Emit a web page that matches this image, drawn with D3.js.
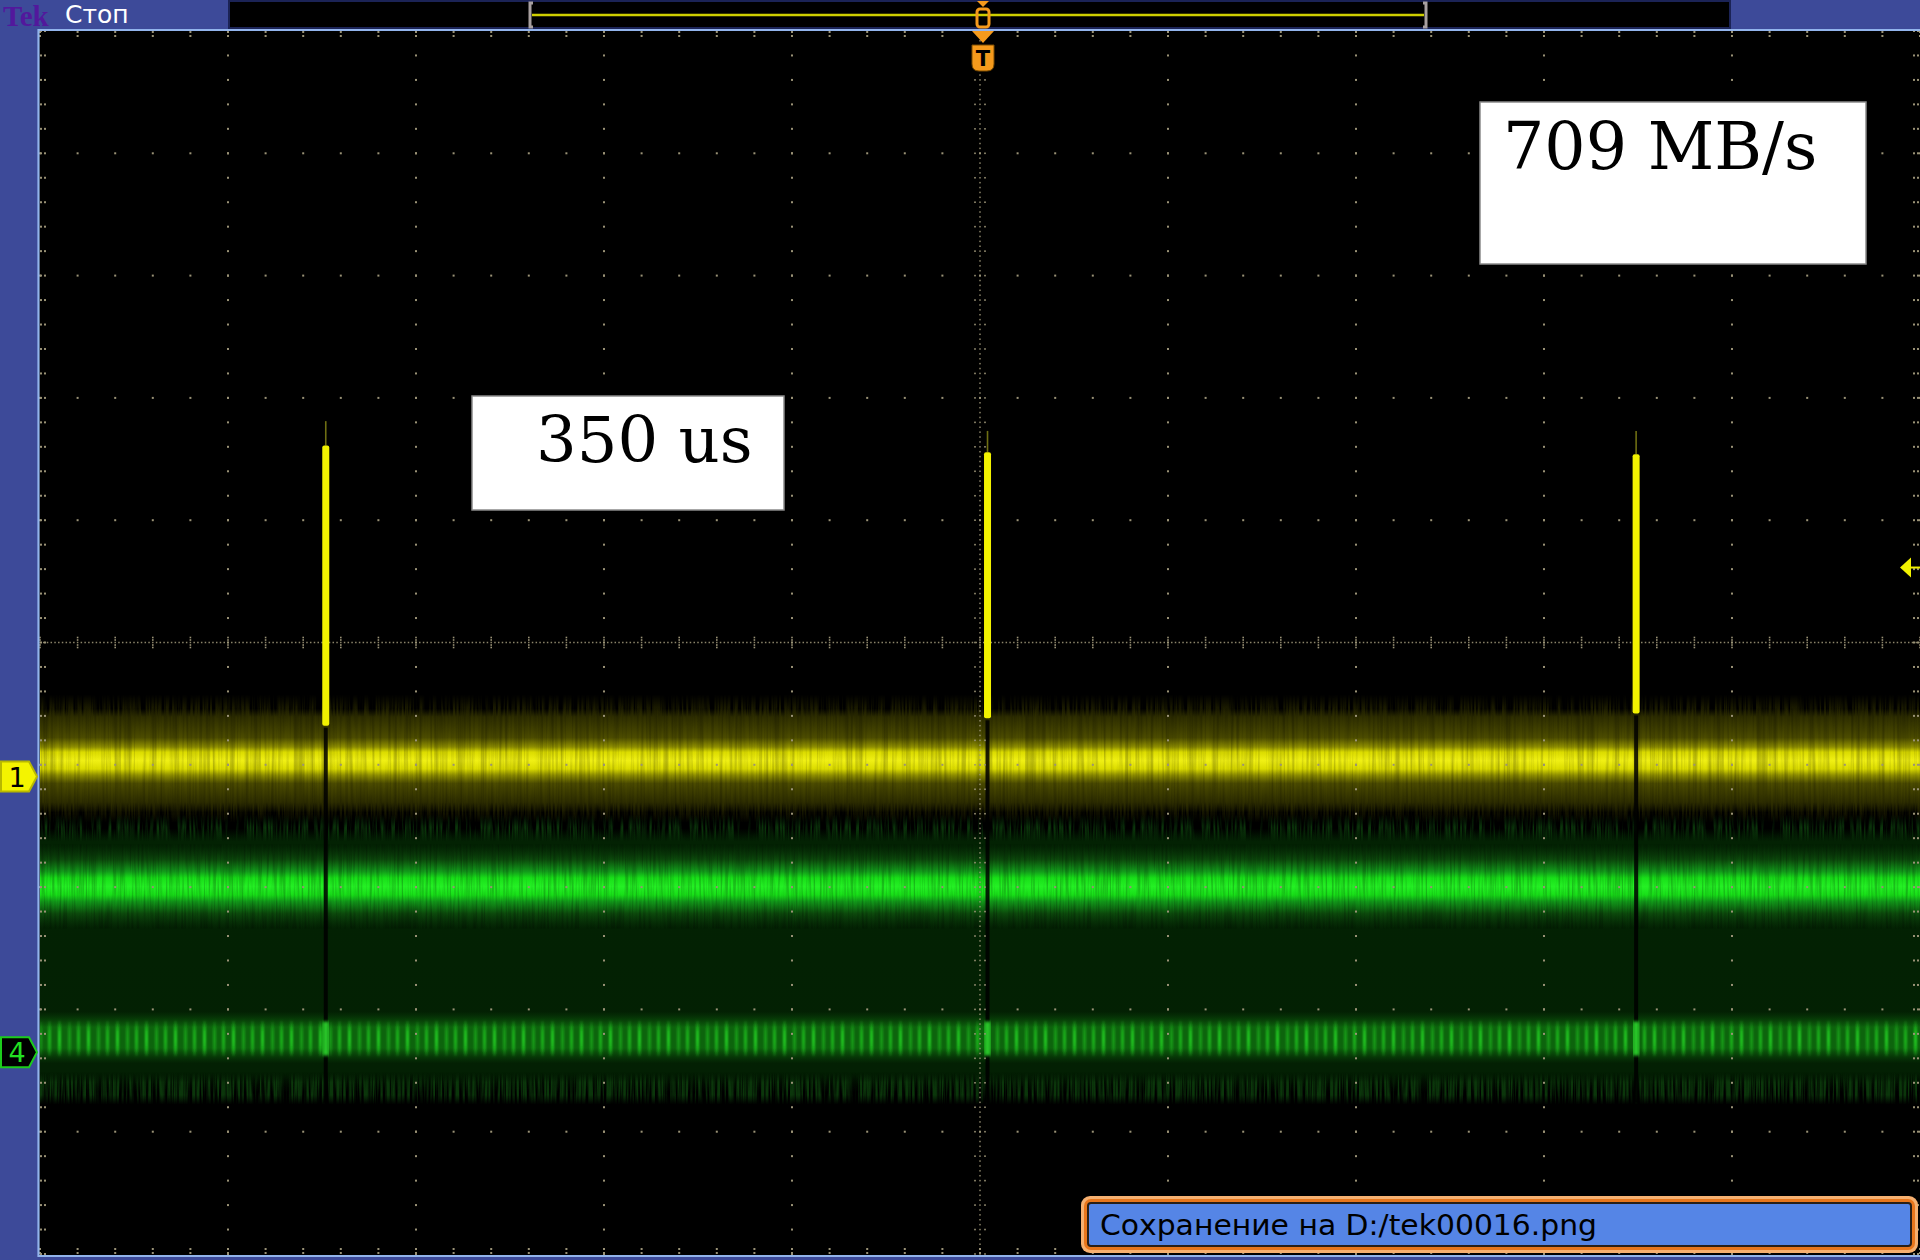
<!DOCTYPE html>
<html>
<head>
<meta charset="utf-8">
<script src="https://cdn.jsdelivr.net/npm/d3@7"></script>
<style>
  html, body { margin: 0; padding: 0; background: #3d4a99; overflow: hidden; }
</style>
</head>
<body>
<div id="scope"></div>
<script>
// ---- data (100 us/div, grid in divisions) ----
const timeDomain = [-500, 500];          // us across the 10 horizontal divisions
const voltDomain = [-5, 5];              // vertical divisions
const pulseTimes = [-348, 4, 349];       // us, the three ch1 pulses
const pulseTops = [1.61, 1.555, 1.54];   // div
const pulseBottoms = [-0.68, -0.62, -0.58];
const pulseTails = [1.81, 1.73, 1.73];   // faint lead-in above each pulse
const channelNames = ["1", "2", "4"];
const channelLevels = [-0.965, -1.995, -3.23];   // band centre, div
const markerLevels = [-1.096, null, -3.35];      // ground markers on the left
const triggerLevel = 0.613;
const triggerTime = 0;
const annotations = ["350 us", "709 MB/s"];
const statusText = "Сохранение на D:/tek00016.png";
const brandText = "Tek";
const runState = "Стоп";

const W = 1920, H = 1260;
const X0 = 40, X1 = 1920, Y0 = 31, Y1 = 1254;

const svg = d3.select("#scope").append("svg")
  .attr("width", W).attr("height", H)
  .style("display", "block");

const x = d3.scaleLinear().domain(timeDomain).range([X0, X1]);
const y = d3.scaleLinear().domain(voltDomain).range([Y1, Y0]);
const gx = d3.scaleLinear().domain([-5, 5]).range([X0, X1]);

const defs = svg.append("defs");

function vgrad(id, stops) {
  defs.append("linearGradient").attr("id", id)
    .attr("x1", 0).attr("y1", 0).attr("x2", 0).attr("y2", 1)
    .selectAll("stop").data(stops).join("stop")
    .attr("offset", d => d[0])
    .attr("stop-color", d => d[1])
    .attr("stop-opacity", d => d[2] === undefined ? 1 : d[2]);
}

// streaky texture (vertical noise like a persistence display)
function streakFilter(id, seed, fx, fy, gain, bias) {
  const f = defs.append("filter").attr("id", id)
    .attr("x", 0).attr("y", 0).attr("width", 1).attr("height", 1)
    .attr("color-interpolation-filters", "sRGB");
  f.append("feTurbulence").attr("type", "fractalNoise")
    .attr("baseFrequency", fx + " " + fy).attr("numOctaves", 2)
    .attr("seed", seed).attr("result", "n");
  f.append("feColorMatrix").attr("in", "n").attr("type", "matrix")
    .attr("values", "0 0 0 0 0  0 0 0 0 0  0 0 0 0 0  " + gain + " 0 0 0 " + bias)
    .attr("result", "a");
  f.append("feComposite").attr("in", "SourceGraphic").attr("in2", "a")
    .attr("operator", "in");
}
streakFilter("streakA", 3, 0.45, 0.015, 3.2, -1.1);
streakFilter("streakB", 11, 0.35, 0.01, 2.4, -0.9);
streakFilter("streakC", 23, 0.5, 0.02, 3.0, -1.2);

defs.append("filter").attr("id", "soft").attr("x", -0.01).attr("y", -0.2)
  .attr("width", 1.02).attr("height", 1.4)
  .append("feGaussianBlur").attr("stdDeviation", "1.2 1.5");

defs.append("clipPath").attr("id", "plotClip")
  .append("rect").attr("x", X0 - 1).attr("y", Y0 - 1)
  .attr("width", X1 - X0 + 2).attr("height", Y1 - Y0 + 2);

// gradients for the traces
vgrad("ch1Fringe", [[0, "#464600", 0], [0.25, "#464600", 0.9], [0.78, "#464600", 0.9], [1, "#464600", 0]]);
vgrad("ch1Body", [[0, "#262600", 0], [0.08, "#2e2e00"], [0.28, "#4c4c00"], [0.37, "#909000"],
  [0.42, "#dcdc00"], [0.5, "#f0f014"], [0.58, "#dcdc00"], [0.64, "#909000"], [0.72, "#4c4c00"],
  [0.9, "#2e2e00"], [1, "#262600", 0]]);
vgrad("envFill", [[0, "#032403", 0], [0.05, "#032203"], [0.92, "#032003"], [1, "#021a02", 0]]);
vgrad("envFringe", [[0, "#0c3c0c", 0], [0.3, "#0c3c0c", 0.9], [0.7, "#0c3c0c", 0.9], [1, "#0c3c0c", 0]]);
vgrad("ch2Body", [[0, "#0a3a0a", 0], [0.18, "#0c4a0c"], [0.32, "#129a1a"], [0.4, "#18e018"],
  [0.5, "#24f024"], [0.6, "#18e018"], [0.68, "#129a1a"], [0.82, "#0c4a0c"], [1, "#0a3a0a", 0]]);
vgrad("ch4Glow", [[0, "#0a4a0a", 0], [0.3, "#0d640d"], [0.7, "#0d640d"], [1, "#0a4a0a", 0]]);
vgrad("ch4Mask", [[0, "#fff", 0.1], [0.3, "#fff", 0.75], [0.55, "#fff", 0.85], [0.8, "#fff", 0.65], [1, "#fff", 0.1]]);

const pat = defs.append("pattern").attr("id", "ch4Stripes")
  .attr("patternUnits", "userSpaceOnUse").attr("width", 29).attr("height", 60);
[[0, 3, 0.9], [10, 3, 0.5], [19, 3, 0.7]].forEach(s => {
  pat.append("rect").attr("x", s[0]).attr("y", 0).attr("width", s[1]).attr("height", 60)
    .attr("fill", "#28ee28").attr("opacity", s[2]);
});
const m4 = defs.append("mask").attr("id", "ch4M").attr("maskUnits", "userSpaceOnUse")
  .attr("x", 0).attr("y", 0).attr("width", W).attr("height", H);

// ---- frame ----
svg.append("rect").attr("width", W).attr("height", H).attr("fill", "#3d4a99");
svg.append("rect").attr("x", 39).attr("y", 30).attr("width", W - 39).attr("height", 1226).attr("fill", "#000");

const plot = svg.append("g").attr("clip-path", "url(#plotClip)");

// ---- waveform bands ----
const bands = plot.append("g");
const c1 = y(channelLevels[0]), c2 = y(channelLevels[1]), c4 = y(channelLevels[2]);

// ch1 yellow
bands.append("rect").attr("x", X0).attr("width", X1 - X0)
  .attr("y", c1 - 66).attr("height", 128).attr("fill", "url(#ch1Fringe)").attr("filter", "url(#streakA)");
bands.append("rect").attr("x", X0).attr("width", X1 - X0)
  .attr("y", c1 - 52).attr("height", 104).attr("fill", "url(#ch1Body)");
bands.append("rect").attr("x", X0).attr("width", X1 - X0)
  .attr("y", c1 - 52).attr("height", 104).attr("fill", "#000").attr("opacity", 0.22).attr("filter", "url(#streakB)");

// green envelope behind ch2 / ch4
const envTop = c2 - 58, envBot = c4 + 55;
bands.append("rect").attr("x", X0).attr("width", X1 - X0)
  .attr("y", envTop - 14).attr("height", 42).attr("fill", "url(#envFringe)").attr("filter", "url(#streakC)");
bands.append("rect").attr("x", X0).attr("width", X1 - X0)
  .attr("y", envTop).attr("height", envBot - envTop).attr("fill", "url(#envFill)");
bands.append("rect").attr("x", X0).attr("width", X1 - X0)
  .attr("y", envBot - 20).attr("height", 32).attr("fill", "url(#envFringe)").attr("filter", "url(#streakA)");

// ch2 green
bands.append("rect").attr("x", X0).attr("width", X1 - X0)
  .attr("y", c2 - 42).attr("height", 84).attr("fill", "url(#ch2Body)");
bands.append("rect").attr("x", X0).attr("width", X1 - X0)
  .attr("y", c2 - 42).attr("height", 84).attr("fill", "#000").attr("opacity", 0.2).attr("filter", "url(#streakC)");

// ch4 striped
bands.append("rect").attr("x", X0).attr("width", X1 - X0)
  .attr("y", c4 - 26).attr("height", 52).attr("fill", "url(#ch4Glow)");
m4.append("rect").attr("x", X0).attr("width", X1 - X0)
  .attr("y", c4 - 17).attr("height", 36).attr("fill", "url(#ch4Mask)");
bands.append("g").attr("filter", "url(#soft)")
  .append("rect").attr("x", X0).attr("width", X1 - X0)
  .attr("y", c4 - 17).attr("height", 36).attr("fill", "url(#ch4Stripes)").attr("mask", "url(#ch4M)");

// dark gap and ch4 blob under each pulse
pulseTimes.forEach((t, i) => {
  const px = x(t);
  bands.append("rect").attr("x", px - 2).attr("width", 4)
    .attr("y", y(pulseBottoms[i]) + 2).attr("height", envBot - y(pulseBottoms[i]) + 8)
    .attr("fill", "#000").attr("opacity", 0.85);
  bands.append("rect").attr("x", px - 3).attr("width", 6)
    .attr("y", c4 - 16).attr("height", 34).attr("fill", "#30f030").attr("opacity", 0.8)
    .attr("filter", "url(#soft)");
});

// ---- graticule ----
const grid = plot.append("g").attr("fill", "#9a9276");
const minor = d3.range(-25, 26).map(k => k / 5);
const majors = d3.range(-4, 5).filter(m => m !== 0);
const dot = (px, py, w, h, op) => grid.append("rect")
  .attr("x", px - (w || 2) / 2).attr("y", py - (h || 2) / 2)
  .attr("width", w || 2).attr("height", h || 2)
  .attr("opacity", op || 1);

majors.forEach(m => {
  minor.forEach(v => { dot(gx(v), y(m)); dot(gx(m), y(v)); });
});
// centre axes, densely dotted with small tick marks
d3.range(-250, 251).map(k => k / 50).forEach(v => dot(gx(v), y(0), 1.5, 1.5, 0.9));
d3.range(-125, 126).map(k => k / 25).forEach(v => dot(gx(0), y(v), 1.5, 1.5, 0.9));
minor.forEach(v => {
  dot(gx(v), y(0) - 5, 1.6, 1.6); dot(gx(v), y(0) + 5, 1.6, 1.6);
  dot(gx(v), y(0) - 2.5, 1.6, 1.6); dot(gx(v), y(0) + 2.5, 1.6, 1.6);
  dot(gx(0) - 5, y(v), 1.6, 1.6); dot(gx(0) + 5, y(v), 1.6, 1.6);
});
// edge ticks
minor.forEach(v => {
  dot(X0 + 1, y(v)); dot(X0 + 5, y(v));
  dot(X1 - 2, y(v)); dot(X1 - 6, y(v));
  dot(gx(v), Y0 + 1); dot(gx(v), Y0 + 5);
  dot(gx(v), Y1 - 1); dot(gx(v), Y1 - 5);
});

// ---- pulses ----
const pulses = plot.append("g");
pulseTimes.forEach((t, i) => {
  const px = x(t);
  pulses.append("line").attr("x1", px).attr("x2", px)
    .attr("y1", y(pulseTails[i])).attr("y2", y(pulseTops[i]))
    .attr("stroke", "#6e6e12").attr("stroke-width", 1.6);
  pulses.append("rect").attr("x", px - 3.5).attr("width", 7)
    .attr("y", y(pulseTops[i])).attr("height", y(pulseBottoms[i]) - y(pulseTops[i]))
    .attr("rx", 2).attr("fill", "#f2f200");
});

// trigger level arrow on the right
const ty = y(triggerLevel);
svg.append("path").attr("d", `M1900,${ty} L1911,${ty - 10} L1911,${ty + 10} Z`).attr("fill", "#f2f200");
svg.append("line").attr("x1", 1910).attr("x2", 1920).attr("y1", ty).attr("y2", ty)
  .attr("stroke", "#f2f200").attr("stroke-width", 2);

// trigger position marker below the top edge
const tx = x(triggerTime) + 3;
svg.append("path").attr("d", `M${tx - 11},31 L${tx + 11},31 L${tx},43 Z`).attr("fill", "#f59a1c");
svg.append("path")
  .attr("d", `M${tx - 11},45 L${tx + 11},45 L${tx + 11},64 Q${tx + 11},71 ${tx + 4},71 L${tx - 4},71 Q${tx - 11},71 ${tx - 11},64 Z`)
  .attr("fill", "#f59a1c").attr("stroke", "#7a4a00").attr("stroke-width", 1);
svg.append("text").attr("x", tx).attr("y", 66).attr("text-anchor", "middle")
  .attr("font-family", "DejaVu Sans").attr("font-weight", "bold").attr("font-size", 21)
  .attr("fill", "#000").text("T");

// ---- annotation boxes ----
function noteBox(x0, y0, w, h, tx0, tyb, size, txt) {
  svg.append("rect").attr("x", x0).attr("y", y0).attr("width", w).attr("height", h)
    .attr("fill", "#fff").attr("stroke", "#8a8a8a").attr("stroke-width", 1.5);
  svg.append("text").attr("x", tx0).attr("y", tyb)
    .attr("font-family", "DejaVu Serif").attr("font-size", size).attr("fill", "#000")
    .text(txt);
}
noteBox(472, 396, 312, 114, 536, 462, 64, annotations[0]);
noteBox(1480, 102, 386, 162, 1503, 169, 65, annotations[1]);

// ---- frame lines ----
svg.append("line").attr("x1", 38).attr("x2", W).attr("y1", 30).attr("y2", 30)
  .attr("stroke", "#92b4ec").attr("stroke-width", 2.2);
svg.append("line").attr("x1", 38.5).attr("x2", 38.5).attr("y1", 29).attr("y2", 1257)
  .attr("stroke", "#92b4ec").attr("stroke-width", 2.2);
svg.append("line").attr("x1", 38).attr("x2", W).attr("y1", 1256).attr("y2", 1256)
  .attr("stroke", "#92b4ec").attr("stroke-width", 2.2);

// ---- channel markers on the left ----
function marker(level, fill, stroke, color, label) {
  const my = y(level);
  svg.append("path")
    .attr("d", `M1,${my - 15} L29,${my - 15} L37,${my} L29,${my + 15} L1,${my + 15} Z`)
    .attr("fill", fill).attr("stroke", stroke).attr("stroke-width", 2);
  svg.append("text").attr("x", 17).attr("y", my + 10).attr("text-anchor", "middle")
    .attr("font-family", "DejaVu Sans").attr("font-size", 27).attr("fill", color).text(label);
}
marker(markerLevels[0], "#f4f400", "#b8b800", "#000", channelNames[0]);
marker(markerLevels[2], "#000", "#1ccc1c", "#22e022", channelNames[2]);

// ---- top status bar ----
svg.append("rect").attr("x", 0).attr("y", 0).attr("width", W).attr("height", 29).attr("fill", "#3d4a99");
svg.append("text").attr("x", 3).attr("y", 26)
  .attr("font-family", "Liberation Serif").attr("font-weight", "bold").attr("font-size", 29)
  .attr("fill", "#52189c").text(brandText);
svg.append("text").attr("x", 65).attr("y", 23)
  .attr("font-family", "DejaVu Sans").attr("font-size", 25).attr("fill", "#fff").text(runState);
svg.append("rect").attr("x", 229).attr("y", 1).attr("width", 1501).attr("height", 27)
  .attr("fill", "#000").attr("stroke", "#1b2356").attr("stroke-width", 2);
// record window indicator
svg.append("line").attr("x1", 532).attr("x2", 1424).attr("y1", 15).attr("y2", 15)
  .attr("stroke", "#cfcf00").attr("stroke-width", 2.5);
[[530, 1], [1426, -1]].forEach(b => {
  svg.append("path")
    .attr("d", `M${b[0] + 3 * b[1]},3 L${b[0]},3 L${b[0]},27 L${b[0] + 3 * b[1]},27`)
    .attr("fill", "none").attr("stroke", "#a8a0a0").attr("stroke-width", 3);
});
svg.append("path").attr("d", `M${tx - 6},1 L${tx + 6},1 L${tx},7 Z`).attr("fill", "#f59a1c");
svg.append("rect").attr("x", tx - 6).attr("y", 9).attr("width", 12).attr("height", 18).attr("rx", 3)
  .attr("fill", "none").attr("stroke", "#f59a1c").attr("stroke-width", 3);

// ---- save message box ----
svg.append("rect").attr("x", 1081).attr("y", 1196).attr("width", 837).attr("height", 57).attr("rx", 9)
  .attr("fill", "#f6b070");
svg.append("rect").attr("x", 1084).attr("y", 1199).attr("width", 831).attr("height", 51).attr("rx", 7)
  .attr("fill", "#e8761c");
svg.append("rect").attr("x", 1088).attr("y", 1203).attr("width", 823).attr("height", 43).attr("rx", 3)
  .attr("fill", "#5585e6").attr("stroke", "#2a2018").attr("stroke-width", 2);
svg.append("text").attr("x", 1100).attr("y", 1235)
  .attr("font-family", "DejaVu Sans Condensed, DejaVu Sans").attr("font-size", 28)
  .attr("textLength", 497).attr("lengthAdjust", "spacingAndGlyphs")
  .attr("fill", "#000").text(statusText);
</script>
</body>
</html>
